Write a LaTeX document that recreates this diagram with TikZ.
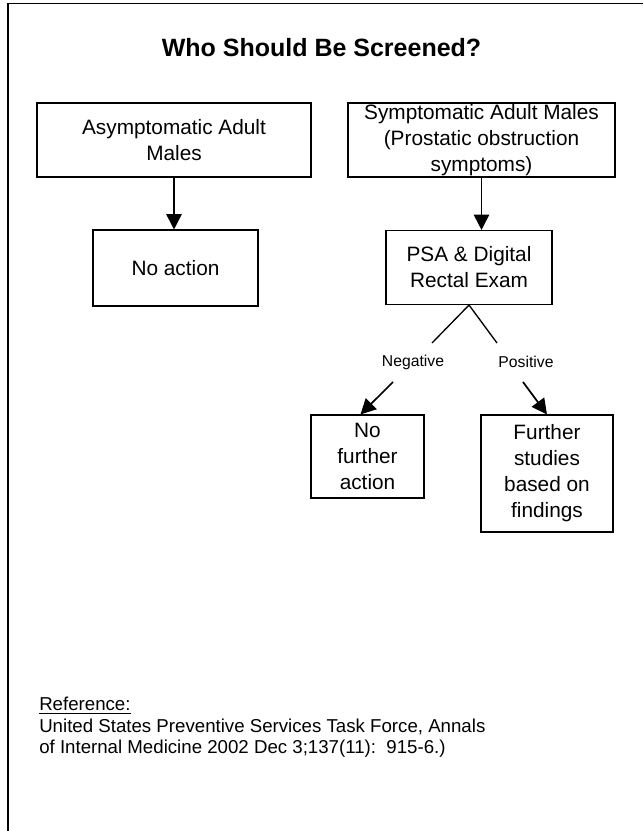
\documentclass[tikz,border=0pt]{standalone}
\usepackage{fontspec}
\setmainfont{Liberation Sans}
\usepackage{tikz}
\usetikzlibrary{arrows.meta,positioning}

\tikzset{
  box/.style={draw=black, line width=0.8pt, inner sep=0pt, align=center,
              font=\fontsize{15.6}{19.5}\selectfont},
  arr/.style={line width=1.3pt, -{Triangle[length=11.5pt,width=11.5pt]}},
  branch/.style={line width=1pt},
  lbl/.style={inner sep=0pt, font=\fontsize{11.8}{14}\selectfont}
}

\begin{document}
\begin{tikzpicture}[x=0.75pt,y=-0.75pt]
    \useasboundingbox (0,0) rectangle (643,831);
    % page frame
    \draw [line width=1.3pt] (643,3.5) -- (8,3.5) -- (8,831);

    \node [inner sep=0pt] (title) at (321.5,47.5)
        {\fontsize{18.75}{22}\selectfont\bfseries Who Should Be Screened?};

    \node [box, minimum width=205.5pt, minimum height=55.5pt] (asym) at (174,140)
        {Asymptomatic Adult\\Males};
    \node [box, minimum width=123.75pt, minimum height=57pt] (noact) at (175.5,268)
        {No action};
    \node [box, minimum width=200.25pt, minimum height=55.5pt] (sym) at (481.5,140)
        {Symptomatic Adult Males\\(Prostatic obstruction\\symptoms)};
    \node [box, minimum width=124.5pt, minimum height=55.5pt] (psa) at (469,267.5)
        {PSA \& Digital\\Rectal Exam};
    \node [box, minimum width=84.75pt, minimum height=62.25pt] (nofur) at (367.5,456.5)
        {No\\further\\action};
    \node [box, minimum width=99pt, minimum height=87.75pt] (further) at (547,473.5)
        {Further\\studies\\based on\\findings};

    \node [lbl] (neg) at (413,362) {Negative};
    \node [lbl] (pos) at (526,362) {Positive};

    \coordinate (negup) at (432,343);
    \coordinate (posup) at (497,343);
    \coordinate (negdn) at (393,382);
    \coordinate (posdn) at (523,382);

    \draw [arr] (asym.south) -- (asym.south |- noact.north);
    \draw [arr] (sym.south) -- (sym.south |- psa.north);
    \draw [branch] (negup) -- (psa.south) -- (posup);
    \draw [arr] (negdn) -- ([xshift=37.5pt]nofur.north west);
    \draw [arr] (posdn) -- (further.north);

    \node [anchor=north west, inner sep=0pt, align=left,
           font=\fontsize{14}{16}\selectfont] (ref) at (39,697)
        {\underline{Reference:}\\
         United States Preventive Services Task Force, Annals\\
         of Internal Medicine 2002 Dec 3;137(11):\ \ 915-6.)};
\end{tikzpicture}
\end{document}
